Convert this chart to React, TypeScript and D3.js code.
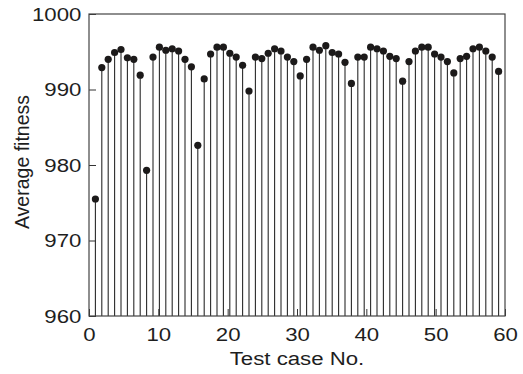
import React, { useEffect, useRef } from 'react';
import * as d3 from 'd3';

// average fitness per test case (64 stems)
const fitness = [
    975.5, 992.9, 994.0, 994.9, 995.3, 994.2, 994.0, 991.9, 979.3, 994.3,
    995.6, 995.2, 995.4, 995.1, 994.0, 993.0, 982.6, 991.4, 994.7, 995.6,
    995.6, 994.8, 994.3, 993.2, 989.8, 994.3, 994.1, 994.8, 995.4, 995.1,
    994.3, 993.7, 991.8, 994.0, 995.6, 995.2, 995.8, 994.9, 994.7, 993.6,
    990.8, 994.3, 994.3, 995.6, 995.4, 995.1, 994.4, 994.1, 991.1, 993.7,
    995.1, 995.6, 995.6, 994.7, 994.3, 993.7, 992.2, 994.1, 994.4, 995.4,
    995.6, 995.1, 994.3, 992.4
];
const testCases = fitness.map((_, i) => i + 1);
const xTicks = [0, 10, 20, 30, 40, 50, 60];
const yTicks = [960, 970, 980, 990, 1000];

const App = () => {
    const ref = useRef(null);

    useEffect(() => {
        const margin = { top: 14, right: 18, bottom: 58, left: 89 },
            width = 523 - margin.left - margin.right,
            height = 374 - margin.top - margin.bottom;

        d3.select(ref.current).selectAll("*").remove();

        const svg = d3.select(ref.current)
            .attr("width", 523)
            .attr("height", 374)
            .append("g")
            .attr("transform", `translate(${margin.left},${margin.top})`);

        // in the source figure the stems run on 0..65 while the labels say 0..60
        const x = d3.scaleLinear().domain([0, testCases.length + 1]).range([0, width]);
        const xLab = d3.scaleLinear().domain([0, 60]).range([0, width]);
        const y = d3.scaleLinear().domain([960, 1000]).range([height, 0]);

        const font = "'Liberation Sans', Arial, sans-serif";
        const stretch = "scale(1.17,1)"; // the scanned lettering is a bit wide

        const gx = svg.append("g")
            .attr("transform", `translate(0,${height})`)
            .call(d3.axisBottom(xLab).tickValues(xTicks).tickFormat(d3.format("d")).tickSize(-7).tickPadding(12));
        const gy = svg.append("g")
            .call(d3.axisLeft(y).tickValues(yTicks).tickFormat(d3.format("d")).tickSize(-7).tickPadding(6.5));

        [gx, gy].forEach(g => {
            g.select(".domain").remove();
            g.selectAll("line").attr("stroke", "#333").attr("stroke-width", 1);
            g.selectAll("text")
                .attr("fill", "#1e1e1e")
                .attr("transform", stretch)
                .style("font-family", font)
                .style("font-size", "19px");
        });

        // stems
        svg.selectAll(".stem")
            .data(fitness)
            .enter().append("line")
            .attr("class", "stem")
            .attr("x1", (d, i) => x(testCases[i]))
            .attr("x2", (d, i) => x(testCases[i]))
            .attr("y1", y(960))
            .attr("y2", d => y(d))
            .attr("stroke", "#2a2a2a")
            .attr("stroke-width", 1.1);

        svg.selectAll(".dot")
            .data(fitness)
            .enter().append("circle")
            .attr("class", "dot")
            .attr("cx", (d, i) => x(testCases[i]))
            .attr("cy", d => y(d))
            .attr("r", 3.6)
            .attr("fill", "#1c1a1a");

        // frame
        svg.append("rect")
            .attr("width", width)
            .attr("height", height)
            .attr("fill", "none")
            .attr("stroke", "#444")
            .attr("stroke-width", 1.2);

        svg.append("text")
            .attr("transform", `translate(${width / 2},${height + 49}) ${stretch}`)
            .style("text-anchor", "middle")
            .style("font-family", font)
            .style("font-size", "19px")
            .attr("fill", "#1e1e1e")
            .text("Test case No.");

        svg.append("text")
            .attr("transform", "rotate(-90)")
            .attr("x", -(height / 2) + 3)
            .attr("y", 29 - margin.left)
            .style("text-anchor", "middle")
            .style("font-family", font)
            .style("font-size", "19.5px")
            .attr("fill", "#1e1e1e")
            .text("Average fitness");
    }, []);

    return <svg ref={ref} style={{ position: 'absolute', left: 0, top: 0, background: '#fff' }} />;
};

export default App;
